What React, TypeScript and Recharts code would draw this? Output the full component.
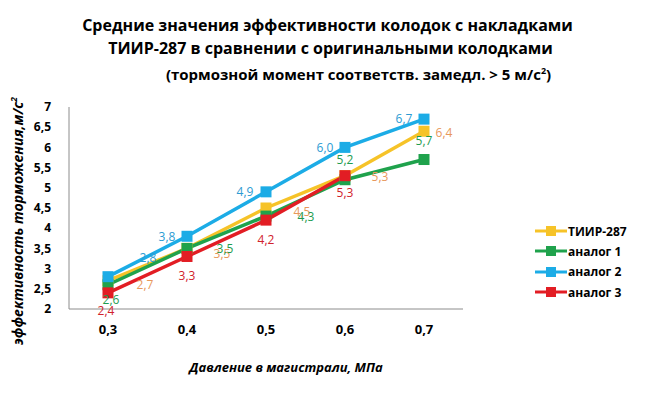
import React from "react";
import { LineChart, Line, XAxis, YAxis, LabelList } from "recharts";

const categories = ["0,3", "0,4", "0,5", "0,6", "0,7"];
const tiir = [2.7, 3.5, 4.5, 5.3, 6.4];
const analog1 = [2.6, 3.5, 4.3, 5.2, 5.7];
const analog2 = [2.8, 3.8, 4.9, 6.0, 6.7];
const analog3: (number | null)[] = [2.4, 3.3, 4.2, 5.3, null];
const yTicks = [2, 2.5, 3, 3.5, 4, 4.5, 5, 5.5, 6, 6.5, 7];

const rows = categories.map((c, i) => ({
  cat: c,
  tiir: tiir[i],
  a1: analog1[i],
  a2: analog2[i],
  a3: analog3[i],
}));

// series look: line colour, label colour, and where each value label sits (dx, dy from the point)
const series = [
  {
    key: "tiir", name: "ТИИР-287", color: "#F6C328", labelColor: "#E8985A",
    offsets: [[37, 4], [35, 5], [36, 3], [35, 1], [20, 1]],
  },
  {
    key: "a1", name: "аналог 1", color: "#1FA24C", labelColor: "#1E9C4F",
    offsets: [[3, 15], [38, 0], [40, 0], [0, -20], [0, -19]],
  },
  {
    key: "a2", name: "аналог 2", color: "#1CACE6", labelColor: "#2C9BD3",
    offsets: [[40, -19], [-20, 0], [-21, 0], [-20, 0], [-20, -1]],
  },
  {
    key: "a3", name: "аналог 3", color: "#E21D24", labelColor: "#D1222B",
    offsets: [[-2, 18], [0, 19], [0, 19], [0, 17], [0, 0]],
  },
];

const FONT = "'Open Sans', 'Noto Sans', sans-serif";
const fmt = (v: number) => v.toFixed(1).replace(".", ",");

const Square = (color: string) => (props: any) => {
  const { cx, cy, index } = props;
  if (cx == null || cy == null || props.value == null) return <g key={index} />;
  return <rect key={index} x={cx - 5.5} y={cy - 5.5} width={11} height={11} fill={color} />;
};

const makeLabel = (s: (typeof series)[number]) => (props: any) => {
  const { x, y, value, index } = props;
  if (value == null) return null;
  const [dx, dy] = s.offsets[index];
  return (
    <text
      x={x + dx}
      y={y + dy}
      textAnchor="middle"
      dominantBaseline="central"
      fill={s.labelColor}
      fontSize={12}
      fontFamily={FONT}
    >
      {fmt(value)}
    </text>
  );
};

const LegendBox = () => (
  <div
    style={{
      position: "absolute", left: 535, top: 221, width: 110,
      fontFamily: FONT, fontSize: 12, fontWeight: 700, color: "#000",
    }}
  >
    {series.map((s) => (
      <div key={s.key} style={{ display: "flex", alignItems: "center", height: 20.3 }}>
        <svg width={32} height={12} style={{ marginRight: 1 }}>
          <line x1={0} y1={6} x2={32} y2={6} stroke={s.color} strokeWidth={3} />
          <rect x={11} y={1} width={10} height={10} fill={s.color} />
        </svg>
        <span>{s.name}</span>
      </div>
    ))}
  </div>
);

export default function App() {
  return (
    <div style={{ position: "absolute", left: 0, top: 0, width: 651, height: 403, background: "#fff" }}>
      <div
        style={{
          position: "absolute", left: 0, top: 14, width: 651, textAlign: "center",
          fontFamily: FONT, fontWeight: 700, fontSize: 16, lineHeight: "23px", color: "#000",
        }}
      >
        <div style={{ marginLeft: 4 }}>Средние значения эффективности колодок с накладками</div>
        <div style={{ marginLeft: 10 }}>ТИИР-287 в сравнении с оригинальными колодками</div>
        <div style={{ marginLeft: 66, fontSize: 15, lineHeight: "21px" }}>
          (тормозной момент соответств. замедл. &gt; 5 м/с<sup style={{ fontSize: 9 }}>2</sup>)
        </div>
      </div>

      <LineChart
        width={651}
        height={403}
        data={rows}
        margin={{ top: 107, right: 188, left: 0, bottom: 64 }}
        style={{ position: "absolute", left: 0, top: 0 }}
      >
        <XAxis
          dataKey="cat"
          tickLine={false}
          axisLine={{ stroke: "#8C8C8C", strokeWidth: 1 }}
          tick={{ fontSize: 13, fontWeight: 700, fill: "#000", fontFamily: FONT }}
          tickMargin={10}
          height={30}
          padding={{ left: 39, right: 39 }}
        />
        <YAxis
          domain={[2, 7]}
          ticks={yTicks}
          interval={0}
          tickLine={false}
          axisLine={{ stroke: "#8C8C8C", strokeWidth: 1 }}
          tick={{ fontSize: 12, fontWeight: 700, fill: "#000", fontFamily: FONT }}
          tickFormatter={(v: number) => String(v).replace(".", ",")}
          tickMargin={12}
          width={69}
        />
        {series.map((s) => (
          <Line
            key={s.key}
            dataKey={s.key}
            name={s.name}
            stroke={s.color}
            strokeWidth={3.5}
            dot={Square(s.color)}
            activeDot={false}
            isAnimationActive={false}
            connectNulls={false}
          >
            <LabelList dataKey={s.key} content={makeLabel(s)} />
          </Line>
        ))}
      </LineChart>

      <LegendBox />

      <div
        style={{
          position: "absolute", left: 17, top: 221, transform: "translate(-50%, -50%) rotate(-90deg)",
          whiteSpace: "nowrap", fontFamily: FONT, fontWeight: 700, fontStyle: "italic", fontSize: 14, color: "#000",
        }}
      >
        эффективность торможения,м/с<sup style={{ fontSize: 9 }}>2</sup>
      </div>
      <div
        style={{
          position: "absolute", left: 286, top: 367, transform: "translate(-50%, -50%)",
          whiteSpace: "nowrap", fontFamily: FONT, fontWeight: 700, fontStyle: "italic", fontSize: 13, color: "#000",
        }}
      >
        Давление в магистрали, МПа
      </div>
    </div>
  );
}
